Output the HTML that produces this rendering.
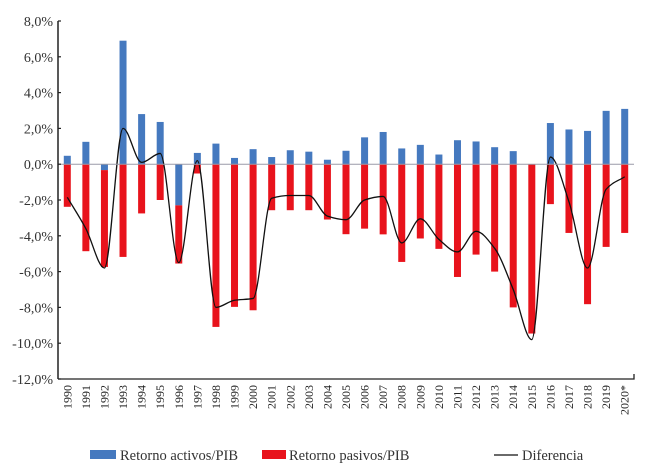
<!DOCTYPE html>
<html><head><meta charset="utf-8"><style>
body{margin:0;background:#fff;}
svg{display:block;font-family:"Liberation Serif",serif;}
</style></head><body>
<svg width="650" height="467" viewBox="0 0 650 467">
<g id="grid"></g>
<g id="bars"></g>
<g id="line"></g>
<g id="axes"></g>
<g>
<rect x="90" y="450" width="26" height="9" fill="#4579bf"/>
<text x="120" y="460" font-size="14.5" fill="#333">Retorno activos/PIB</text>
<rect x="262" y="450" width="24" height="9" fill="#e8131c"/>
<text x="289" y="460" font-size="14.5" fill="#333">Retorno pasivos/PIB</text>
<line x1="494" y1="455" x2="518" y2="455" stroke="#111" stroke-width="1.2"/>
<text x="522" y="460" font-size="14.5" fill="#333">Diferencia</text>
</g>
</svg>
<script>
const years=["1990","1991","1992","1993","1994","1995","1996","1997","1998","1999","2000","2001","2002","2003","2004","2005","2006","2007","2008","2009","2010","2011","2012","2013","2014","2015","2016","2017","2018","2019","2020*"];
const activos=[0.47,1.25,-0.33,6.9,2.8,2.36,-2.3,0.63,1.15,0.35,0.84,0.4,0.78,0.7,0.25,0.75,1.5,1.8,0.88,1.08,0.54,1.34,1.27,0.95,0.73,0,2.3,1.94,1.86,2.98,3.09];
const pasivos=[-2.38,-4.86,-5.74,-5.18,-2.75,-2.0,-5.55,-0.52,-9.09,-7.97,-8.16,-2.57,-2.57,-2.57,-3.09,-3.91,-3.6,-3.92,-5.46,-4.15,-4.73,-6.3,-5.05,-6.0,-8.0,-9.46,-2.23,-3.84,-7.82,-4.62,-3.84];
const diferencia=[-1.85,-3.6,-5.8,2.0,0.1,0.6,-5.5,0.2,-8.0,-7.6,-7.5,-1.9,-1.75,-1.75,-2.9,-3.1,-2.0,-1.8,-4.4,-3.05,-4.2,-4.9,-3.75,-4.7,-7.0,-9.8,0.4,-2.1,-5.8,-1.4,-0.7];
const yTicks=[8,6,4,2,0,-2,-4,-6,-8,-10,-12];
const yTickLabels=["8,0%","6,0%","4,0%","2,0%","0,0%","-2,0%","-4,0%","-6,0%","-8,0%","-10,0%","-12,0%"];

const NS="http://www.w3.org/2000/svg";
const X0=58,X1=634,Y8=21,Y12=379;
const band=(X1-X0)/years.length;
function xc(i){return X0+band*(i+0.5);}
function y(v){return Y8+(8-v)*(Y12-Y8)/20;}
function mk(tag,attrs,parent){const e=document.createElementNS(NS,tag);for(const k in attrs)e.setAttribute(k,attrs[k]);parent.appendChild(e);return e;}
const bars=document.getElementById('bars'),axes=document.getElementById('axes'),line=document.getElementById('line');
const bw=7;
years.forEach((yr,i)=>{
  const a=activos[i],p=pasivos[i];
  if(a!==0){
    const r=mk('rect',{x:xc(i)-bw/2,y:Math.min(y(0),y(a)),width:bw,height:Math.abs(y(a)-y(0)),fill:'#4579bf'},bars);
    
    
  }
  const start=a<0?a:0;
  const r2=mk('rect',{x:xc(i)-bw/2,y:y(start),width:bw,height:Math.abs(y(p)-y(start)),fill:'#e8131c'},bars);
  
  
  const t=mk('text',{x:0,y:0,'font-size':12,fill:'#222','text-anchor':'end',transform:'translate('+(xc(i)+4)+',385) rotate(-90)'},axes);
  t.textContent=yr;
  
  
});
const z=mk('line',{x1:X0,x2:X1,y1:y(0),y2:y(0),stroke:'#9a9aa8','stroke-width':1},axes);


// monotone cubic
const pts=diferencia.map((v,i)=>[xc(i),y(v)]);
const n=pts.length,h=band;
const dl=[];for(let i=0;i<n-1;i++)dl.push((pts[i+1][1]-pts[i][1])/h);
const m=[];
for(let i=0;i<n;i++){
  if(i===0)m.push(dl[0]);else if(i===n-1)m.push(dl[n-2]);
  else if(dl[i-1]*dl[i]<=0)m.push(0);
  else m.push(2/(1/dl[i-1]+1/dl[i]));
}
let d='M'+pts[0][0]+','+pts[0][1];
for(let i=0;i<n-1;i++){
  const p1=pts[i],p2=pts[i+1];
  d+=' C'+(p1[0]+h/3)+','+(p1[1]+m[i]*h/3)+' '+(p2[0]-h/3)+','+(p2[1]-m[i+1]*h/3)+' '+p2[0]+','+p2[1];
}
const path=mk('path',{d:d,fill:'none',stroke:'#111','stroke-width':1.3},line);


const ya=mk('line',{x1:X0,x2:X0,y1:Y8,y2:Y12,stroke:'#222','stroke-width':1.5},axes);


const xa=mk('path',{d:'M'+X0+','+Y12+' H'+X1+' V'+(Y12-5),fill:'none',stroke:'#222','stroke-width':1.3},axes);


yTicks.forEach((v,i)=>{
  const tk=mk('line',{x1:X0,x2:X0+3,y1:y(v),y2:y(v),stroke:'#222','stroke-width':1.2},axes);
  
  
  const t=mk('text',{x:53,y:y(v)+5,'font-size':14,fill:'#333','text-anchor':'end'},axes);
  t.textContent=yTickLabels[i];
  
  
});
</script>
</body></html>
